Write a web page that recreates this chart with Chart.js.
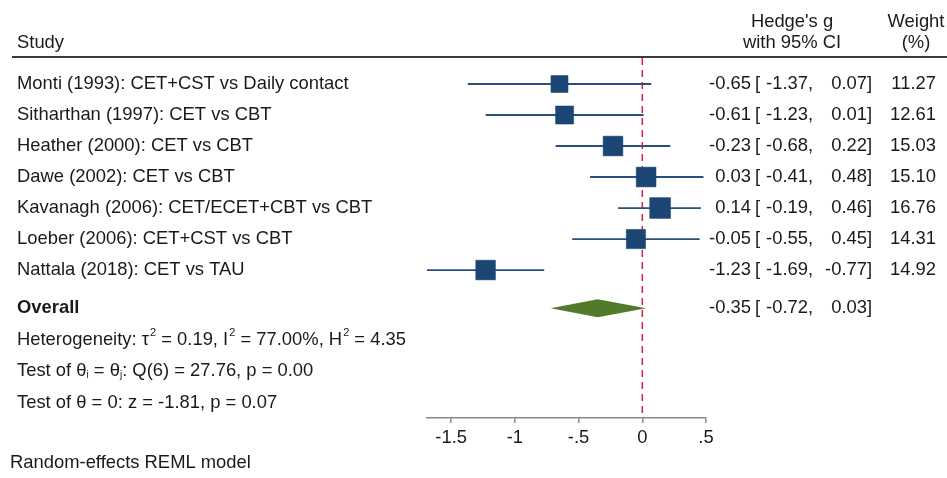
<!DOCTYPE html>
<html>
<head>
<meta charset="utf-8">
<script src="https://cdn.jsdelivr.net/npm/chart.js@4.4.0/dist/chart.umd.min.js"></script>
<style>
html, body { margin: 0; padding: 0; background: #fff; }
</style>
</head>
<body>
<canvas id="forest" width="947" height="478"></canvas>
<script>
// данные исследований
const studies = [
    "Monti (1993): CET+CST vs Daily contact",
    "Sitharthan (1997): CET vs CBT",
    "Heather (2000): CET vs CBT",
    "Dawe (2002): CET vs CBT",
    "Kavanagh (2006): CET/ECET+CBT vs CBT",
    "Loeber (2006): CET+CST vs CBT",
    "Nattala (2018): CET vs TAU"
];
const effects = [-0.65, -0.61, -0.23, 0.03, 0.14, -0.05, -1.23];
const ciLower = [-1.37, -1.23, -0.68, -0.41, -0.19, -0.55, -1.69];
const ciUpper = [0.07, 0.01, 0.22, 0.48, 0.46, 0.45, -0.77];
const weights = [11.27, 12.61, 15.03, 15.10, 16.76, 14.31, 14.92];

const overallEffect = -0.35;
const overallLower = -0.72;
const overallUpper = 0.03;

const xTicks = [-1.5, -1, -0.5, 0, 0.5];
const xTickLabels = ["-1.5", "-1", "-.5", "0", ".5"];

// статистика гетерогенности
const tau2 = 0.19, i2 = 77.00, h2 = 4.35;
const qStat = 27.76, qDf = 6, qP = 0.00;
const zStat = -1.81, zP = 0.07;

// раскладка (позиции строк в единицах оси Y)
const OVERALL_ROW = 8.23;
const STAT_ROWS = [9.26, 10.26, 11.29];
const Y_MIN = 0.161, Y_MAX = 11.77;
const FONT = '"Liberation Sans", Arial, sans-serif';
const FS = '18.4px ';
const TEXT_COLOR = '#1a1a1a';
const NAVY = '#1b4572';

function fmt(v) { return v.toFixed(2); }

// рисуем текст с верхними/нижними индексами
function drawRuns(ctx, x, y, runs) {
    runs.forEach(r => {
        const [t, kind] = r;
        if (kind === 'sup') {
            ctx.font = '11px ' + FONT;
            ctx.fillText(t, x + 1, y - 7);
            x += ctx.measureText(t).width + 1;
        } else if (kind === 'sub') {
            ctx.font = '10px ' + FONT;
            ctx.fillText(t, x, y + 4);
            x += ctx.measureText(t).width;
        } else {
            ctx.font = FS + FONT;
            ctx.fillText(t, x, y);
            x += ctx.measureText(t).width;
        }
    });
}

const forestText = {
    id: 'forestText',
    beforeDatasetsDraw(chart) {
        const ctx = chart.ctx;
        const xs = chart.scales.x, ys = chart.scales.y;
        // ромб общего эффекта
        const yc = ys.getPixelForValue(OVERALL_ROW);
        ctx.save();
        ctx.fillStyle = '#527a2b';
        ctx.beginPath();
        ctx.moveTo(xs.getPixelForValue(overallLower), yc);
        ctx.lineTo(xs.getPixelForValue(overallEffect), yc - 9);
        ctx.lineTo(xs.getPixelForValue(overallUpper), yc);
        ctx.lineTo(xs.getPixelForValue(overallEffect), yc + 9);
        ctx.closePath();
        ctx.fill();
        ctx.restore();
    },
    afterDraw(chart) {
        const ctx = chart.ctx;
        const ys = chart.scales.y;
        ctx.save();
        ctx.fillStyle = TEXT_COLOR;
        ctx.textBaseline = 'middle';
        ctx.font = FS + FONT;

        // заголовки
        ctx.textAlign = 'left';
        ctx.fillText('Study', 17, 43);
        ctx.textAlign = 'center';
        ctx.fillText("Hedge's g", 792, 22);
        ctx.fillText('with 95% CI', 792, 43);
        ctx.fillText('Weight', 916, 22);
        ctx.fillText('(%)', 916, 43);
        ctx.fillStyle = '#3a3a3a';
        ctx.fillRect(12, 56, 935, 2);
        ctx.fillStyle = TEXT_COLOR;

        const drawCI = (y, est, lo, hi) => {
            ctx.textAlign = 'right';
            ctx.fillText(fmt(est), 751, y);
            ctx.textAlign = 'left';
            ctx.fillText('[', 755, y);
            ctx.textAlign = 'right';
            ctx.fillText(fmt(lo), 808, y);
            ctx.textAlign = 'left';
            ctx.fillText(',', 808, y);
            ctx.textAlign = 'right';
            ctx.fillText(fmt(hi), 867, y);
            ctx.textAlign = 'left';
            ctx.fillText(']', 867, y);
        };

        studies.forEach((s, i) => {
            const y = ys.getPixelForValue(i + 1);
            ctx.textAlign = 'left';
            ctx.fillText(s, 17, y);
            drawCI(y, effects[i], ciLower[i], ciUpper[i]);
            ctx.textAlign = 'right';
            ctx.fillText(fmt(weights[i]), 936, y);
        });

        const yo = ys.getPixelForValue(OVERALL_ROW);
        ctx.textAlign = 'left';
        ctx.font = 'bold ' + FS + FONT;
        ctx.fillText('Overall', 17, yo);
        ctx.font = FS + FONT;
        drawCI(yo, overallEffect, overallLower, overallUpper);

        ctx.textAlign = 'left';
        drawRuns(ctx, 17, ys.getPixelForValue(STAT_ROWS[0]), [
            ['Heterogeneity: \u03c4'], ['2', 'sup'], [' = ' + fmt(tau2) + ', I'], ['2', 'sup'],
            [' = ' + fmt(i2) + '%, H'], ['2', 'sup'], [' = ' + fmt(h2)]
        ]);
        drawRuns(ctx, 17, ys.getPixelForValue(STAT_ROWS[1]), [
            ['Test of \u03b8'], ['i', 'sub'], [' = \u03b8'], ['j', 'sub'],
            [': Q(' + qDf + ') = ' + fmt(qStat) + ', p = ' + fmt(qP)]
        ]);
        drawRuns(ctx, 17, ys.getPixelForValue(STAT_ROWS[2]), [
            ['Test of \u03b8 = 0: z = ' + fmt(zStat) + ', p = ' + fmt(zP)]
        ]);

        ctx.font = FS + FONT;
        ctx.fillText('Random-effects REML model', 10, 463);
        ctx.restore();
    }
};

const ciDatasets = studies.map((s, i) => ({
    type: 'line',
    data: [{ x: ciLower[i], y: i + 1 }, { x: ciUpper[i], y: i + 1 }],
    borderColor: '#27507c',
    borderWidth: 1.8,
    pointRadius: 0,
    order: 5
}));

new Chart(document.getElementById('forest'), {
    type: 'scatter',
    data: {
        datasets: [
            {
                type: 'line',
                data: [{ x: 0, y: Y_MIN }, { x: 0, y: Y_MAX }],
                borderColor: '#d81f4b',
                borderWidth: 1.5,
                borderDash: [7, 5],
                pointRadius: 0,
                order: 10
            },
            ...ciDatasets,
            {
                data: studies.map((s, i) => ({ x: effects[i], y: i + 1 })),
                pointStyle: 'rect',
                pointRadius: weights.map(w => Math.sqrt(w) * 3.6),
                backgroundColor: NAVY,
                borderColor: NAVY,
                borderWidth: 0.5,
                order: 1
            }
        ]
    },
    options: {
        responsive: false,
        animation: false,
        events: [],
        devicePixelRatio: 1,
        layout: { padding: { left: 427, right: 241, top: 58, bottom: 25 } },
        plugins: { legend: { display: false }, tooltip: { enabled: false } },
        scales: {
            x: {
                type: 'linear',
                min: ciLower[6],
                max: 0.5,
                afterBuildTicks: scale => { scale.ticks = xTicks.map(v => ({ value: v })); },
                ticks: {
                    autoSkip: false,
                    maxRotation: 0,
                    padding: 4,
                    color: TEXT_COLOR,
                    font: { family: FONT, size: 18.4 },
                    callback: v => xTickLabels[xTicks.indexOf(v)]
                },
                grid: { display: true, drawOnChartArea: false, tickLength: 5, color: '#888', lineWidth: 1.5 },
                border: { display: true, color: '#888', width: 1.5 }
            },
            y: {
                type: 'linear',
                display: false,
                reverse: true,
                min: Y_MIN,
                max: Y_MAX
            }
        }
    },
    plugins: [forestText]
});
</script>
</body>
</html>
